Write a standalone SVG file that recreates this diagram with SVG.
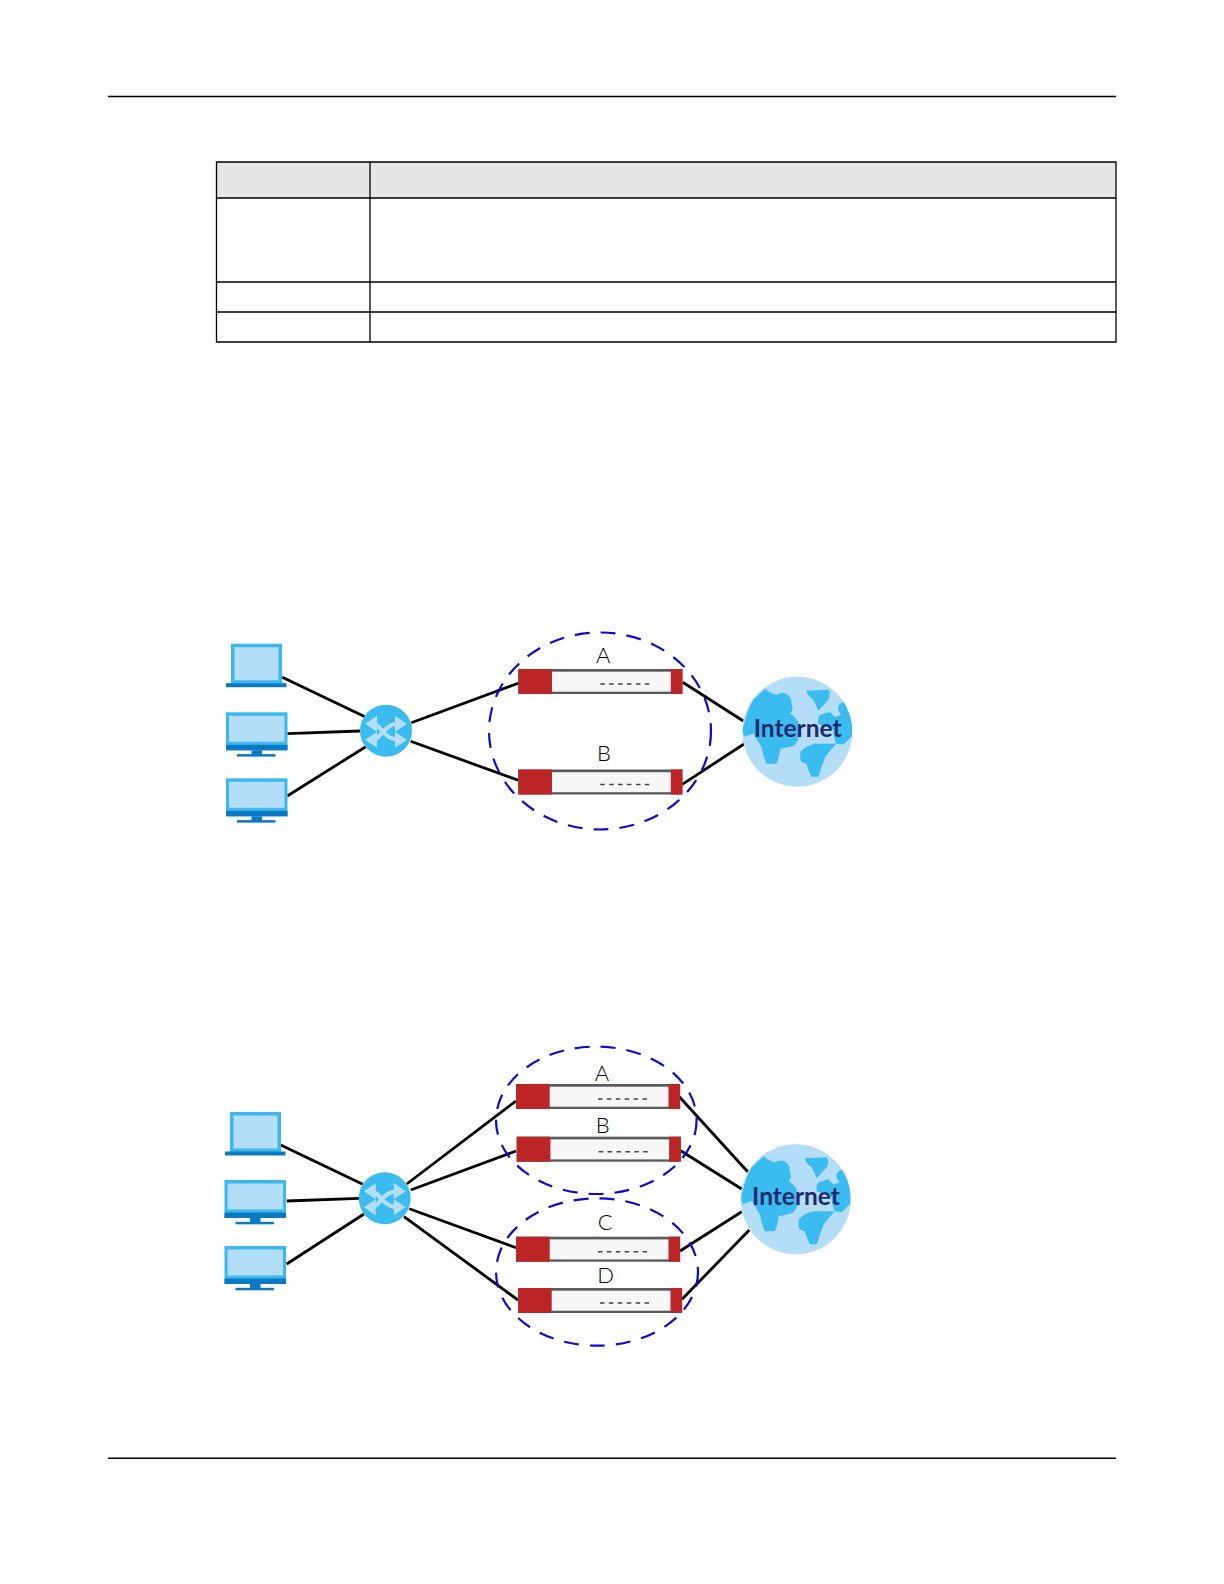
<svg xmlns="http://www.w3.org/2000/svg" width="1224" height="1584" viewBox="0 0 1224 1584">
<style>
.rule{stroke:#000;stroke-width:1.4;fill:none}
.cell{stroke:#000;stroke-width:1.3;fill:none}
.conn{stroke:#000;stroke-width:2.8;fill:none}
.zone{stroke:#0a0ad2;stroke-width:2.2;fill:none;stroke-dasharray:15 11}
.lbl{font-family:"Lato","Liberation Sans",sans-serif;font-weight:300;font-size:22px;fill:#000;text-anchor:middle}
.inet{font-family:"Lato","Liberation Sans",sans-serif;font-weight:700;font-size:24.500px;fill:#1f2a6e;text-anchor:middle}
.frame{fill:#3bb9ee}.screen{fill:#b4ddf8}.base{fill:#0a78c2}
.red{fill:#bb2526}.body{fill:#f7f7f7}.gray{fill:#5a5a5a}
.sw{fill:#3bbcf0}.arrow{stroke:#b4ddf8;stroke-width:4.200;fill:none}.head{fill:#b4ddf8}
.land{fill:#3bbcf0}
</style>
<defs>
<clipPath id="globe-clip"><circle r="55"/></clipPath>
<g id="laptop">
<rect class="frame" x="5" y="0" width="51" height="40"/>
<rect class="screen" x="8.5" y="3.5" width="44" height="33"/>
<rect class="base" x="0" y="39.500" width="60.500" height="4"/>
</g>
<g id="monitor">
<rect class="frame" x="0" y="0" width="61.500" height="38"/>
<rect class="screen" x="3" y="3.500" width="55.500" height="26"/>
<rect class="base" x="0" y="32.500" width="61.500" height="5.500"/>
<rect class="base" x="25.500" y="38" width="10.500" height="4.500"/>
<rect class="base" x="11" y="41.800" width="38.500" height="2.500"/>
</g>
<g id="switch">
<circle class="sw" r="26"/>
<path class="arrow" d="M-14-7C-4-7-4 9 14 9M-14 9C-4 9-4-7 14-7"/>
<path class="head" d="M9-15L21-7L9 1ZM9 1L21 9L9 17ZM-9-15L-21-7L-9 1ZM-9 1L-21 9L-9 17Z"/>
</g>
<g id="fw">
<rect class="gray" x="0" y="0" width="164" height="25"/>
<rect class="body" x="33" y="2.700" width="120" height="20"/>
<rect class="red" x="0" y="0" width="33.700" height="25"/>
<rect class="red" x="152.500" y="0" width="11.700" height="25"/>
<path d="M82 15H131" stroke="#444" stroke-width="1.600" stroke-dasharray="4.500 4.400" fill="none"/>
</g>
<g id="globe">
<circle class="screen" r="55"/>
<g clip-path="url(#globe-clip)">
<path class="land" d="M-32-43Q-26-38-21-37Q-15-40-11-38Q-5-34-6-28Q-3-22-7-18Q-2-15 1-10L1 8Q-2 14-7 15L-17 17Q-18 26-21 32L-31 32Q-34 24-36 15Q-40 8-44 2L-53 5Q-56-2-53-8Q-50-22-44-32Z"/>
<path class="land" d="M9-41L31-42Q34-38 31-32L21-21Q18-28 16-32Q11-35 9-41Z"/>
<path class="land" d="M41-25Q42-29 48-30Q54-22 55-5Q55 6 54 5L46 13L39 12Q36 6 36-2L21-8Q20-14 23-17L33-20Q37-14 39-15L44-17Q40-21 41-25Z"/>
<path class="land" d="M3 20Q10 13 18 12L39 12Q32 20 28 25Q24 36 21 45L14 45Q11 38 9 32Q4 31 3 28Z"/>
</g>
</g>
</defs>
<rect width="1224" height="1584" fill="#fff"/>
<g id="page-rules">
<path class="rule" d="M108 96.500H1116M108 1458.300H1116"/>
</g>
<g id="table">
<rect x="216.500" y="162" width="899.500" height="36" fill="#e6e6e6"/>
<path class="cell" d="M216.500 162H1116V342H216.500ZM370 162V342M216.500 198H1116M216.500 282H1116M216.500 312H1116"/>
</g>
<g id="connectors">
<path class="conn" d="M282.300 677.300L365 716.700M287.300 733.700L360 731M287.300 796L365.700 746.700M411.300 722.700L518.300 683.300M410.700 741.300L518.300 780.300M682.700 682.300L743.300 721M682.300 784.300L744 744"/>
<path class="conn" d="M280.700 1145L362.700 1184.300M286.700 1201L359 1198.300M286.700 1264L364 1214M406.700 1184L516 1101M410.700 1190L516 1151M409.300 1208.700L516 1247.700M404 1216.700L518 1300M679.300 1096.700L747.700 1171.700M680.700 1150.700L741.700 1189M680 1251L741.700 1211.700M682 1299.300L749.300 1230"/>
</g>
<g id="d1-laptop"><use href="#laptop" x="226" y="643.700"/></g>
<g id="d1-pc1"><use href="#monitor" x="226" y="712.300"/></g>
<g id="d1-pc2"><use href="#monitor" x="226" y="778.300"/></g>
<g id="d1-switch"><use href="#switch" x="386" y="730.700"/></g>
<g id="d1-fw-a"><use href="#fw" x="518.300" y="669"/><text class="lbl" x="603.300" y="662.700">A</text></g>
<g id="d1-fw-b"><use href="#fw" x="518.300" y="769.500"/><text class="lbl" x="604" y="761.300">B</text></g>
<g id="d1-internet"><use href="#globe" x="797.300" y="731.700"/><text class="inet" x="797.700" y="737.300">Internet</text></g>
<g id="d2-laptop"><use href="#laptop" x="225" y="1112"/></g>
<g id="d2-pc1"><use href="#monitor" x="224.500" y="1180"/></g>
<g id="d2-pc2"><use href="#monitor" x="224.500" y="1246"/></g>
<g id="d2-switch"><use href="#switch" x="384.700" y="1198.300"/></g>
<g id="d2-fw-a"><use href="#fw" x="516" y="1084"/><text class="lbl" x="602" y="1080.700">A</text></g>
<g id="d2-fw-b"><use href="#fw" x="516.700" y="1136.700"/><text class="lbl" x="602.700" y="1133.300">B</text></g>
<g id="d2-fw-c"><use href="#fw" x="516" y="1236.700"/><text class="lbl" x="605.300" y="1230">C</text></g>
<g id="d2-fw-d"><use href="#fw" x="518" y="1288"/><text class="lbl" x="605.700" y="1283.300">D</text></g>
<g id="d2-internet"><use href="#globe" x="795.700" y="1199.300"/><text class="inet" x="796" y="1205">Internet</text></g>
<g id="zones">
<ellipse class="zone" cx="600" cy="731" rx="111" ry="98.500"/>
<ellipse class="zone" cx="596.300" cy="1120.300" rx="100.300" ry="73.700"/>
<ellipse class="zone" cx="597" cy="1272" rx="101" ry="73.700"/>
</g>
</svg>
